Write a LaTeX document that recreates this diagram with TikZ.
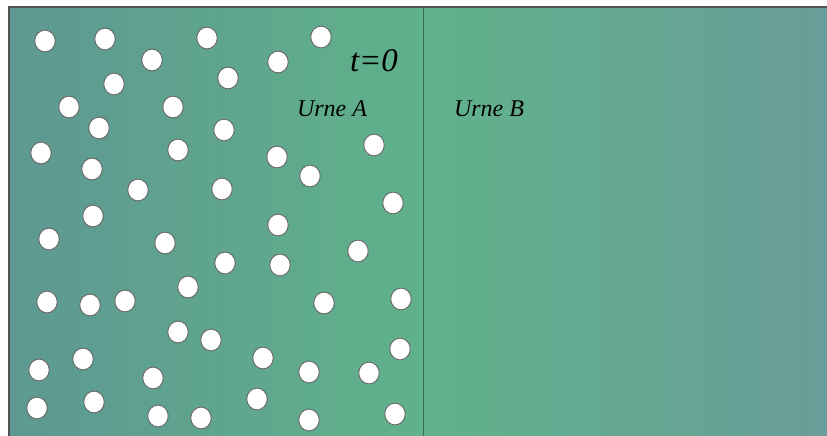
\documentclass[tikz,border=0pt]{standalone}
\usepackage{fontspec}
\usetikzlibrary{shapes.geometric}
\setmainfont{Liberation Serif}
\begin{document}
\begin{tikzpicture}[x=1pt,y=-1pt,
  ball/.style={ellipse,draw=black!60,line width=0.9pt,fill=white,minimum width=20.5pt,minimum height=21.8pt,inner sep=0pt},
  lbl/.style={inner sep=0pt,font=\itshape},
]
\definecolor{cleft}{RGB}{94,152,146}
\definecolor{cmid}{RGB}{96,178,139}
\definecolor{cright}{RGB}{105,157,153}
\definecolor{frame}{RGB}{80,85,82}
\definecolor{divline}{RGB}{62,105,80}
\useasboundingbox (0,0) rectangle (827,436);
\shade[left color=cleft,right color=cmid] (9,7) rectangle (423,436);
\shade[left color=cmid,right color=cright] (423,7) rectangle (827,436);
\coordinate (bl) at (9,436);
\coordinate (tl) at (9,7);
\coordinate (tr) at (827,7);
\coordinate (dtop) at (423,7);
\coordinate (dbot) at (423,436);
\draw[frame,line width=1.2pt] (bl) -- (tl) -- (tr);
\draw[divline,line width=1pt] (dtop) -- (dbot);
\foreach \n/\x/\y in {1/45/41,2/105/39,3/152/60,4/114/84,5/69/107,6/173/107,7/99/128,8/178/150,9/41/153,10/92/169,
11/138/190,12/93/216,13/207/38,14/321/37,15/278/62,16/228/78,17/224/130,18/374/145,19/277/157,20/310/176,
21/222/189,22/393/203,23/49/239,24/165/243,25/188/287,26/47/302,27/90/305,28/125/301,29/178/332,30/211/340,
31/83/359,32/39/370,33/153/378,34/37/408,35/94/402,36/158/416,37/201/418,38/278/225,39/358/251,40/225/263,
41/280/265,42/324/303,43/401/299,44/263/358,45/309/372,46/369/373,47/400/349,48/257/399,49/309/420,50/395/414}
  \node[ball] (p\n) at (\x,\y) {};
\node[lbl,font=\fontsize{33}{33}\selectfont\itshape] (t0) at (374,61) {t=0};
\node[lbl,font=\fontsize{24}{24}\selectfont\itshape] (ua) at (332,109) {Urne A};
\node[lbl,font=\fontsize{24}{24}\selectfont\itshape] (ub) at (489,109) {Urne B};
\end{tikzpicture}
\end{document}
